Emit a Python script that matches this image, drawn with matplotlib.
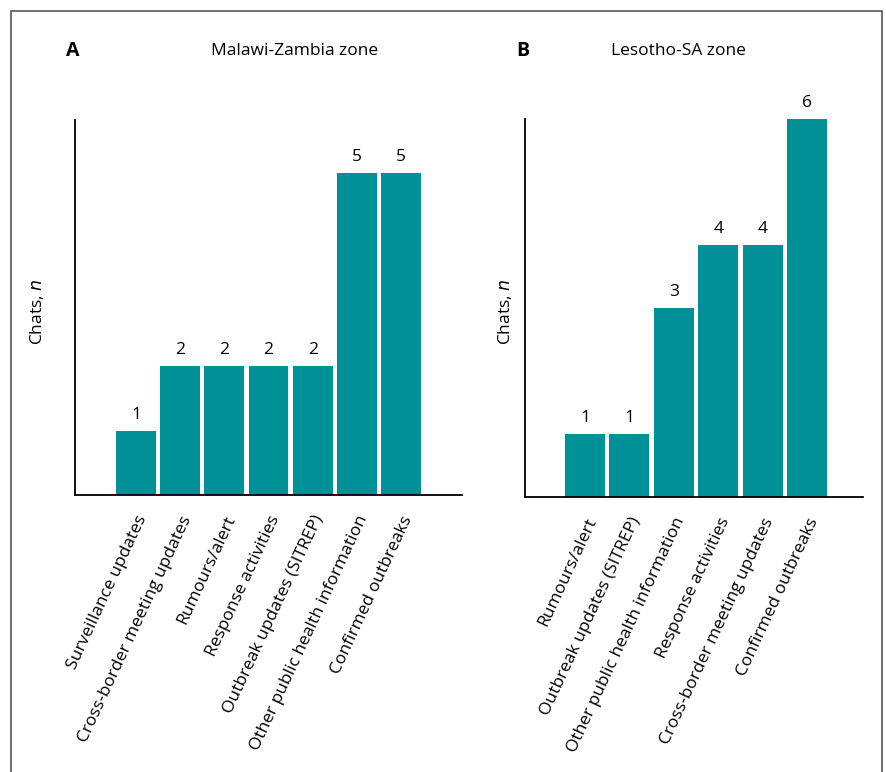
import matplotlib
matplotlib.use("Agg")
import matplotlib.pyplot as plt
from matplotlib.patches import Rectangle

plt.rcParams['font.family'] = ['Open Sans', 'DejaVu Sans']

left_categories = ["Surveillance updates", "Cross-border meeting updates", "Rumours/alert",
                   "Response activities", "Outbreak updates (SITREP)",
                   "Other public health information", "Confirmed outbreaks"]
left_values = [1, 2, 2, 2, 2, 5, 5]

right_categories = ["Rumours/alert", "Outbreak updates (SITREP)",
                    "Other public health information", "Response activities",
                    "Cross-border meeting updates", "Confirmed outbreaks"]
right_values = [1, 1, 3, 4, 4, 6]

W, H = 887, 772
fig = plt.figure(figsize=(W / 100, H / 100), dpi=100)

# outer frame
fig.patches.append(Rectangle((11 / W, -0.05), (882 - 11) / W, 1.05 - 11 / H,
                             transform=fig.transFigure, fill=False,
                             edgecolor='#555555', linewidth=1.2))

color = '#009196'
fs = 12.5


def panel(rect, cats, vals, xlim, ylim, letter, title, letter_x, title_x, ylab_x):
    ax = fig.add_axes(rect)
    x = list(range(len(cats)))
    ax.bar(x, vals, width=0.9, color=color)
    for xi, v in zip(x, vals):
        ax.annotate(str(v), (xi, v), xytext=(0, 5.5), textcoords='offset points',
                    ha='center', va='bottom', fontsize=fs)
    ax.set_xlim(*xlim)
    ax.set_ylim(*ylim)
    ax.spines['top'].set_visible(False)
    ax.spines['right'].set_visible(False)
    for s in ('left', 'bottom'):
        ax.spines[s].set_linewidth(1.3)
    ax.set_yticks([])
    ax.set_xticks(x)
    ax.set_xticklabels(cats, rotation=65, ha='right', va='top',
                       rotation_mode='anchor', fontsize=fs)
    ax.tick_params(axis='x', length=0, pad=13)
    fig.text(letter_x / W, 1 - 51 / H, letter, fontsize=14, fontweight='bold',
             ha='center', va='center')
    fig.text(title_x / W, 1 - 51 / H, title, fontsize=fs, ha='center', va='center')
    fig.text(ylab_x / W, 1 - 312 / H, r'Chats, $\it{n}$', fontsize=fs, rotation=90,
             ha='center', va='center')
    return ax


panel([75 / W, 1 - 495 / H, (462 - 75) / W, (495 - 120) / H],
      left_categories, left_values, (-1.38, 7.38), (0, 5.82),
      'A', 'Malawi-Zambia zone', 73, 295, 37)
panel([525 / W, 1 - 497 / H, (863 - 525) / W, (497 - 119) / H],
      right_categories, right_values, (-1.35, 6.26), (0, 6.0),
      'B', 'Lesotho-SA zone', 523, 678, 505)

fig.savefig('out.png', dpi=100)
